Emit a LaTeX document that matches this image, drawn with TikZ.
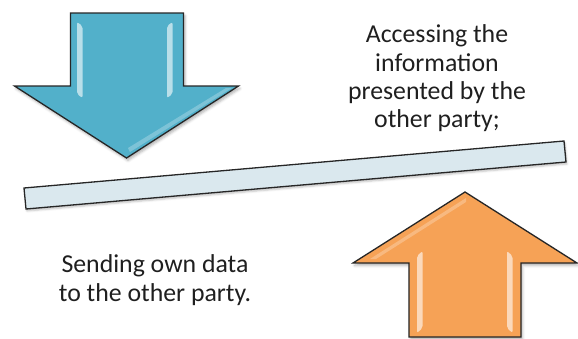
\documentclass[tikz,border=0pt]{standalone}
\usepackage{fontspec}
\setmainfont{Carlito}
\usetikzlibrary{shadows.blur}
\definecolor{bluefill}{RGB}{82,176,202}
\definecolor{orangefill}{RGB}{246,162,86}
\definecolor{barfill}{RGB}{218,232,238}
\begin{document}
\begin{tikzpicture}[x=1pt,y=-1pt,
  arrowshape/.style={draw=black!85, line width=1.3pt, line join=miter,
    blur shadow={shadow xshift=1.5pt, shadow yshift=-2.5pt, shadow blur radius=2.5pt, shadow opacity=30}},
  gloss/.style={fill=white, opacity=0.6, rounded corners=2pt},
  lbl/.style={font=\fontsize{25.8}{29}\selectfont, text=black!88, inner sep=0pt, anchor=base}]
\useasboundingbox (0,0) rectangle (578,338);
% blue arrow (down)
\filldraw[arrowshape, fill=bluefill] (70.5,13) -- (183.5,13) -- (183.5,86) -- (238.5,86)
  -- (126.5,158) -- (14.5,86) -- (70.5,86) -- cycle;
\fill[gloss] (77,22) -- (82.5,26) -- (82.5,98) -- (77,94) -- cycle;
\fill[gloss] (172.5,22) -- (167,26) -- (167,98) -- (172.5,94) -- cycle;
\fill[white, opacity=0.25] (128,148) -- (226,88) -- (232,88) -- (130,152) -- cycle;
% orange arrow (up)
\filldraw[arrowshape, fill=orangefill] (465,192) -- (577,263) -- (521,263) -- (521,337)
  -- (409,337) -- (409,263) -- (353,263) -- cycle;
\fill[gloss] (417,256) -- (422.5,251) -- (422.5,328) -- (417,333) -- cycle;
\fill[gloss] (512.5,256) -- (507,251) -- (507,328) -- (512.5,333) -- cycle;
\fill[white, opacity=0.25] (466,198) -- (370,259) -- (376,259) -- (466,202) -- cycle;
% bar
\coordinate (tl) at (24,188);
\coordinate (tr) at (564,141);
\coordinate (br) at (566,162);
\coordinate (bl) at (26,209);
\filldraw[fill=barfill, draw=black!85, line width=1.3pt,
  blur shadow={shadow xshift=1pt, shadow yshift=-2pt, shadow blur radius=2pt, shadow opacity=25}]
  (tl) -- (tr) -- (br) -- (bl) -- cycle;
% texts
\node[lbl] (a1) at (437,42) {Accessing the};
\node[lbl] (a2) at (437,71) {information};
\node[lbl] (a3) at (437,99) {presented by the};
\node[lbl] (a4) at (437,127) {other party;};
\node[lbl] (s1) at (155,272) {Sending own data};
\node[lbl] (s2) at (155,301) {to the other party.};
\end{tikzpicture}
\end{document}
